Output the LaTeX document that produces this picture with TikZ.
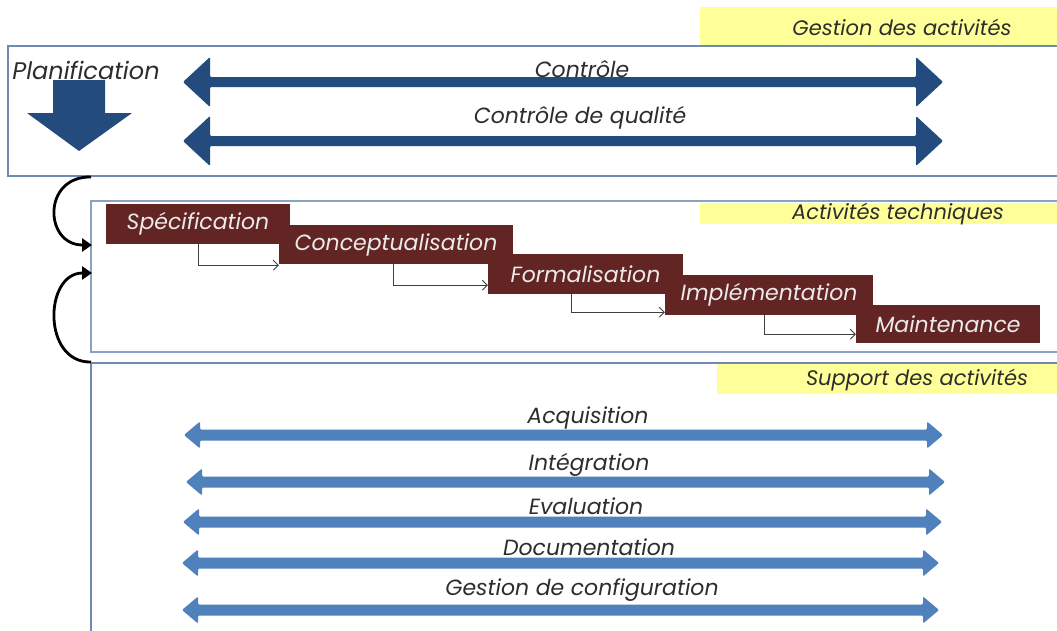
\documentclass[tikz,border=0pt]{standalone}
\usepackage{fontspec}
\setmainfont{Poppins}
\usetikzlibrary{arrows.meta}
\definecolor{frameblue}{RGB}{110,138,176}
\definecolor{darkblue}{RGB}{35,75,125}
\definecolor{midblue}{RGB}{79,129,189}
\definecolor{stepred}{RGB}{99,37,35}
\definecolor{labyellow}{RGB}{255,255,153}
\definecolor{txtgray}{RGB}{45,45,45}
\newcommand\dblarr[7]{%
  \fill[#1, rounded corners=1.2pt] (#2,#4) -- (#2+#7,#4-#6) -- (#2+#7,#4-#5) -- (#3-#7,#4-#5) -- (#3-#7,#4-#6) -- (#3,#4) -- (#3-#7,#4+#6) -- (#3-#7,#4+#5) -- (#2+#7,#4+#5) -- (#2+#7,#4+#6) -- cycle;}
\begin{document}
\begin{tikzpicture}[x=1pt,y=-1pt,
  frame/.style={draw=frameblue, line width=1.2pt},
  lab/.style={font=\itshape\fontsize{22}{24}\selectfont, text=txtgray, inner sep=0pt},
  ylab/.style={lab, font=\itshape\fontsize{21}{23}\selectfont, anchor=center},
  stepbox/.style={fill=stepred, text=white!92!black, font=\itshape\fontsize{22}{24}\selectfont, inner sep=0pt},
  conn/.style={draw=black!75, line width=0.8pt, -{Straight Barb[length=5pt,width=10pt]}},
  loop/.style={line width=2.8pt, -{Triangle[length=10pt,width=13pt]}}
]
\useasboundingbox (0,0) rectangle (1057,630);
\fill[white] (0,0) rectangle (1057,630);

% yellow labels
\fill[labyellow] (700,7) rectangle (1057,45);
\node[ylab] (gestlab) at (902,27) {Gestion des activités};
\fill[labyellow] (700,203) rectangle (1057,224);
\node[ylab] (techlab) at (898,214) {Activités techniques};

% frames
\draw[frame] (1060,46) -- (8,46) -- (8,176) -- (1060,176);
\draw[frame, draw=frameblue!80] (1060,201) -- (91,201) -- (91,352) -- (1060,352);
\draw[frame] (1060,363) -- (91,363) -- (91,632);
\fill[labyellow] (717,364) rectangle (1057,394);
\node[ylab] (suplab) at (917,380) {Support des activités};

% management
\node[lab, font=\itshape\fontsize{24}{26}\selectfont] (plan) at (86,70) {Planification};
\fill[darkblue] (53,80) -- (105,80) -- (105,113) -- (132,113) -- (79,151) -- (27,113) -- (53,113) -- cycle;
\dblarr{darkblue}{183}{943}{82}{5}{25}{27}
\node[lab] (ctrl) at (582,69) {Contrôle};
\dblarr{darkblue}{183}{943}{141}{5}{25}{27}
\node[lab] (qual) at (580,118) {Contrôle de qualité};

% loops
\coordinate (l1s) at (91,177);
\coordinate (l1e) at (92,245);
\coordinate (l2s) at (91,362);
\coordinate (l2e) at (92,273);
\draw[loop] (l1s) .. controls (42,176) and (44,245) .. (l1e);
\draw[loop] (l2s) .. controls (42,363) and (44,273) .. (l2e);

% technical steps
\node[stepbox, minimum width=184, minimum height=40] (spec) at (198,224) {Spécification};
\node[stepbox, minimum width=234, minimum height=39] (conc) at (396,244.5) {Conceptualisation};
\node[stepbox, minimum width=195, minimum height=40] (form) at (585.5,274) {Formalisation};
\node[stepbox, minimum width=208, minimum height=40] (impl) at (769,295) {Implémentation};
\node[stepbox, minimum width=184, minimum height=38] (main) at (948,324) {Maintenance};
\draw[conn] (spec.south) |- ([yshift=-1pt]conc.south west);
\draw[conn] ([xshift=-3pt]conc.south) |- ([yshift=9pt]form.south west);
\draw[conn] ([xshift=-14pt]form.south) |- ([yshift=3pt]impl.south west);
\draw[conn] ([xshift=-5pt]impl.south) |- ([yshift=9pt]main.south west);

% support
\dblarr{midblue}{184}{943}{435}{5.5}{13.5}{16}
\node[lab] (acq) at (588,418) {Acquisition};
\dblarr{midblue}{186}{945}{482}{5.5}{13.5}{16}
\node[lab] (integ) at (589,465) {Intégration};
\dblarr{midblue}{183}{942}{522}{5.5}{13.5}{16}
\node[lab] (evalu) at (586,506) {Evaluation};
\dblarr{midblue}{182}{939}{563}{5.5}{13.5}{16}
\node[lab] (docu) at (589,547) {Documentation};
\dblarr{midblue}{182}{939}{610}{5.5}{13.5}{16}
\node[lab] (conf) at (582,590) {Gestion de configuration};
\end{tikzpicture}
\end{document}
